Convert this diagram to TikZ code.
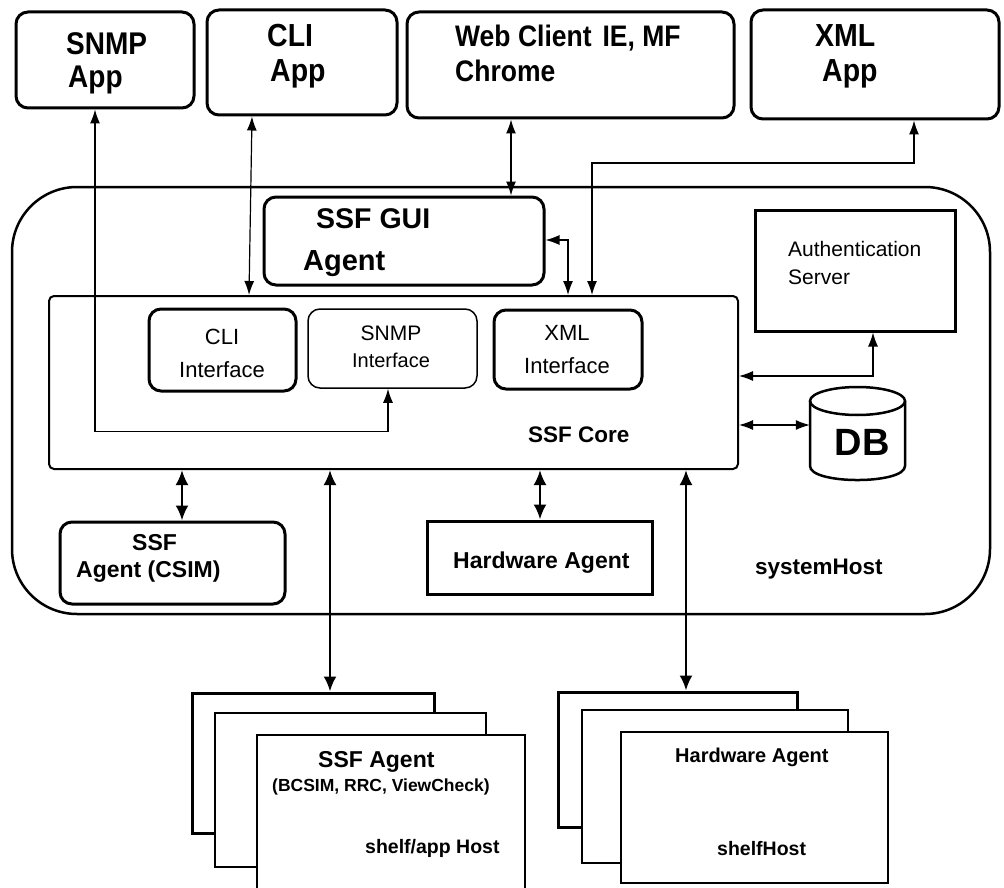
\documentclass[tikz,border=0pt]{standalone}
\usepackage{fontspec}
\setmainfont{Liberation Sans}
\usetikzlibrary{arrows.meta,calc}
\newcommand{\tallt}[1]{\scalebox{1}[1.12]{#1}}
\begin{document}
\begin{tikzpicture}[x=1pt,y=-1pt,
  rbox/.style={draw, line width=3pt, rounded corners=12pt, inner sep=0pt, fill=white},
  tbox/.style={draw, line width=1.5pt, rounded corners=12pt, inner sep=0pt, fill=white},
  sbox/.style={draw, line width=3pt, inner sep=0pt, fill=white},
  pbox/.style={draw, line width=1.5pt, inner sep=0pt, fill=white},
  lbl/.style={anchor=base west, inner sep=0pt},
  clbl/.style={anchor=base, inner sep=0pt},
  fa/.style={font=\fontsize{28.5}{30}\selectfont\bfseries},
  fb/.style={font=\fontsize{23}{25}\selectfont\bfseries},
  fr/.style={font=\fontsize{22}{24}\selectfont},
  conn/.style={line width=1.2pt, {Latex[length=14pt,width=10pt]}-{Latex[length=14pt,width=10pt]}},
  bconn/.style={line width=2.5pt, {Latex[length=15pt,width=13pt]}-{Latex[length=15pt,width=13pt]}}]
\clip (0,0) rectangle (1004,888);
\fill[white] (0,0) rectangle (1004,888);

% top applications
\node[rbox, minimum width=178pt, minimum height=96pt] (snmpapp) at (105,60) {};
\node[rbox, minimum width=190pt, minimum height=105pt] (cliapp) at (302,62.5) {};
\node[rbox, minimum width=327pt, minimum height=106pt] (webapp) at (570.5,65) {};
\node[rbox, minimum width=248pt, minimum height=109pt] (xmlapp) at (875,64.5) {};

% system host
\node[draw, line width=2.5pt, rounded corners=65pt, inner sep=0pt, minimum width=978pt, minimum height=427pt] (syshost) at (501,400.5) {};

\node[rbox, minimum width=280pt, minimum height=88pt] (gui) at (404,241) {};
\node[draw, line width=2pt, rounded corners=5pt, inner sep=0pt, fill=white, minimum width=689pt, minimum height=173pt] (core) at (393.5,382.5) {};
\node[rbox, minimum width=147pt, minimum height=82pt] (cliif) at (222.5,350) {};
\node[tbox, minimum width=169pt, minimum height=79pt] (snmpif) at (392.5,348.5) {};
\node[rbox, minimum width=148pt, minimum height=79pt] (xmlif) at (568,349.5) {};
\node[sbox, minimum width=200pt, minimum height=121pt] (auth) at (855,270.5) {};
\node[rbox, minimum width=225pt, minimum height=82pt] (csim) at (172.5,563) {};
\node[sbox, minimum width=225pt, minimum height=73pt] (hwagent) at (539.5,557.5) {};

% DB cylinder
\node[inner sep=0pt, minimum width=95pt, minimum height=93pt] (db) at (857.5,433.5) {};
\draw[line width=2.5pt, fill=white] (810,401) -- (810,466) .. controls (810,484.7) and (905,484.7) .. (905,466) -- (905,401);
\draw[line width=2.5pt] (857.5,401) ellipse [x radius=47.5pt, y radius=14pt];

% lower stacks
\node[sbox, minimum width=242pt, minimum height=140pt] (lback) at (313,763) {};
\node[pbox, minimum width=271pt, minimum height=154pt] (lmid) at (350.5,790) {};
\node[pbox, minimum width=268pt, minimum height=160pt] (lfront) at (391,815) {};
\node[sbox, minimum width=239pt, minimum height=135pt] (rback) at (677.5,759.5) {};
\node[pbox, minimum width=266pt, minimum height=153pt] (rmid) at (715,786.5) {};
\node[pbox, minimum width=267pt, minimum height=151pt] (rfront) at (754.5,807.5) {};

% connectors
\draw[conn] ([xshift=-10pt]snmpapp.south) -- ++(0,322) -| ([xshift=-4.5pt]snmpif.south);
\draw[conn] ([xshift=-50pt]cliapp.south) -- ([xshift=-144.5pt]core.north);
\draw[conn] ([xshift=-59.5pt]webapp.south) -- ([xshift=107pt]gui.north);
\draw[conn] ([xshift=39pt]xmlapp.south) -- ++(0,42.5) -| ([xshift=198.5pt]core.north);
\draw[conn] ([yshift=1pt]gui.east) -| ([xshift=174.5pt]core.north);
\draw[conn] ([yshift=6.5pt]core.east) -| ([xshift=18pt]auth.south);
\draw[conn] ([yshift=-42.5pt]core.east) -- ([yshift=8.5pt]db.west);
\draw[bconn] ([xshift=-211.5pt]core.south) -- ([xshift=9.5pt]csim.north);
\draw[bconn] ([xshift=146.5pt]core.south) -- ([xshift=0.5pt]hwagent.north);
\draw[bconn] ([xshift=-63.5pt]core.south) -- ([xshift=17pt]lback.north);
\draw[bconn] ([xshift=292.5pt]core.south) -- ([xshift=8.5pt]rback.north);

% labels
\node[lbl, font=\fontsize{28}{30}\selectfont\bfseries] (t1) at (66,55) {\tallt{SNMP}};
\node[lbl, font=\fontsize{28}{30}\selectfont\bfseries] (t2) at (68,88) {\tallt{App}};
\node[lbl, fa] (t3) at (267,47) {\tallt{CLI}};
\node[lbl, fa] (t4) at (270,82) {\tallt{App}};
\node[lbl, font=\fontsize{26.5}{28}\selectfont\bfseries] (t5) at (455,47) {\tallt{Web Client\hspace{11pt}IE, MF}};
\node[lbl, font=\fontsize{26.5}{28}\selectfont\bfseries] (t6) at (455,82) {\tallt{Chrome}};
\node[lbl, fa] (t7) at (815,47) {\tallt{XML}};
\node[lbl, fa] (t8) at (822,82) {\tallt{App}};
\node[lbl, fa] (t9) at (316,228) {SSF GUI};
\node[lbl, font=\fontsize{29}{31}\selectfont\bfseries] (t10) at (303,270) {Agent};
\node[clbl, fr] (t11) at (222,344) {CLI};
\node[clbl, fr] (t12) at (222,377) {Interface};
\node[clbl, font=\fontsize{21}{23}\selectfont] (t13) at (391,340) {SNMP};
\node[clbl, font=\fontsize{20}{22}\selectfont] (t14) at (391,367) {Interface};
\node[clbl, fr] (t15) at (567,340) {XML};
\node[clbl, fr] (t16) at (567,373) {Interface};
\node[lbl, font=\fontsize{22.5}{24}\selectfont\bfseries] (t17) at (528,442) {SSF Core};
\node[lbl, font=\fontsize{21}{23}\selectfont] (t18) at (788,256) {Authentication};
\node[lbl, font=\fontsize{21}{23}\selectfont] (t19) at (788,284) {Server};
\node[clbl, font=\fontsize{38}{40}\selectfont\bfseries] (t20) at (862,455) {DB};
\node[lbl, fb] (t21) at (132,550) {SSF};
\node[lbl, fb] (t22) at (76,577) {Agent (CSIM)};
\node[lbl, fb] (t23) at (453,568) {Hardware Agent};
\node[lbl, font=\fontsize{22.5}{24}\selectfont\bfseries] (t24) at (755,574) {systemHost};
\node[lbl, fb] (t25) at (318,767) {SSF Agent};
\node[lbl, font=\fontsize{17.5}{19}\selectfont\bfseries] (t26) at (272,791) {(BCSIM, RRC, ViewCheck)};
\node[lbl, font=\fontsize{19.5}{21}\selectfont\bfseries] (t27) at (365,853) {shelf/app Host};
\node[lbl, font=\fontsize{20}{22}\selectfont\bfseries] (t28) at (675,762) {Hardware Agent};
\node[lbl, font=\fontsize{19.5}{21}\selectfont\bfseries] (t29) at (717,855) {shelfHost};
\end{tikzpicture}
\end{document}
